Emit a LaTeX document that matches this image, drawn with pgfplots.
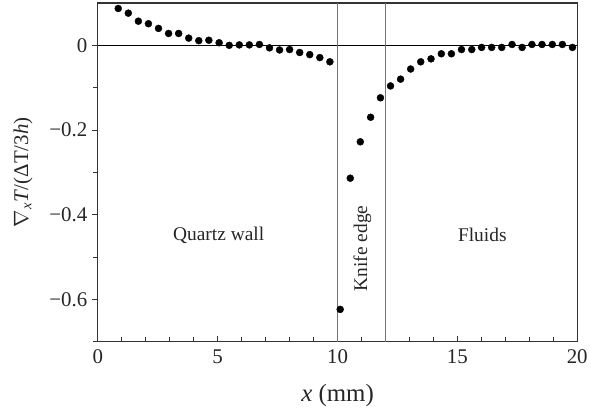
\documentclass[border=0pt]{standalone}
\usepackage{pgfplots}
\pgfplotsset{compat=1.18}
\usepackage{fontspec}
\setmainfont{Liberation Serif}
\begin{document}
\begin{tikzpicture}
\begin{axis}[
  scale only axis,
  width=480bp, height=339bp,
  xmin=0, xmax=20, ymin=-0.7, ymax=0.1,
  axis line style={line width=1.1pt, black!80},
  xtick={0,5,10,15,20},
  minor xtick={1,2,3,4,6,7,8,9,11,12,13,14,16,17,18,19},
  ytick={-0.6,-0.4,-0.2,0},
  yticklabels={−0.6,−0.4,−0.2,0},
  minor ytick={-0.7,-0.5,-0.3,-0.1},
  xtick pos=bottom, ytick pos=left,
  xtick align=inside, ytick align=outside,
  major tick length=6bp, minor tick length=4.5bp,
  tick style={black!80, line width=0.8pt},
  /pgf/number format/assume math mode=true,
  tick label style={font=\fontsize{21}{23}\selectfont, black!85},
  xticklabel style={yshift=-5bp},
  yticklabel style={xshift=-1bp},
  xlabel={\textit{x} (mm)},
  ylabel={$\nabla$\textsubscript{\textit{x}}\textit{T}/(ΔT/3\textit{h})},
  xlabel style={font=\fontsize{25}{27}\selectfont, black!85, yshift=-13bp},
  ylabel style={font=\fontsize{21}{23}\selectfont, black!85, yshift=10bp},
  clip=false,
]
\coordinate (o) at (rel axis cs:0,0);
\draw[black, line width=0.9pt] (axis cs:0,0) -- (axis cs:20,0);
\draw[black!55, line width=0.9pt] (axis cs:10,-0.7) -- (axis cs:10,0.1);
\draw[black!55, line width=0.9pt] (axis cs:12,-0.7) -- (axis cs:12,0.1);
\addplot[only marks, mark=*, mark size=3.5bp, black] coordinates {
(0.85,0.087) (1.27,0.076) (1.69,0.057) (2.11,0.051) (2.53,0.040) (2.95,0.028)
(3.37,0.028) (3.79,0.017) (4.21,0.011) (4.63,0.012) (5.06,0.006) (5.48,0.000)
(5.90,0.001) (6.32,0.001) (6.74,0.002) (7.16,-0.006) (7.58,-0.011) (8.00,-0.010)
(8.42,-0.017) (8.84,-0.022) (9.26,-0.029) (9.68,-0.039)
(10.11,-0.624) (10.53,-0.314) (10.95,-0.228) (11.38,-0.170) (11.79,-0.124)
(12.21,-0.096) (12.63,-0.080) (13.05,-0.056) (13.47,-0.039) (13.90,-0.032)
(14.33,-0.020) (14.75,-0.020) (15.17,-0.010) (15.60,-0.010) (16.01,-0.005)
(16.43,-0.005) (16.85,-0.005) (17.28,0.002) (17.70,-0.005) (18.11,0.002)
(18.53,0.002) (18.96,0.002) (19.38,0.002) (19.80,-0.005)
};
\node[font=\fontsize{19.5}{21}\selectfont, black!85] at (axis cs:5.04,-0.449) {Quartz wall};
\node[font=\fontsize{19.5}{21}\selectfont, black!85] at (axis cs:16.04,-0.449) {Fluids};
\node[font=\fontsize{19.5}{21}\selectfont, black!85, rotate=90] at (axis cs:11.04,-0.48) {Knife edge};
\end{axis}
\path (o) ++(-98bp,-70bp) rectangle ++(591bp,412bp);
\end{tikzpicture}
\end{document}
